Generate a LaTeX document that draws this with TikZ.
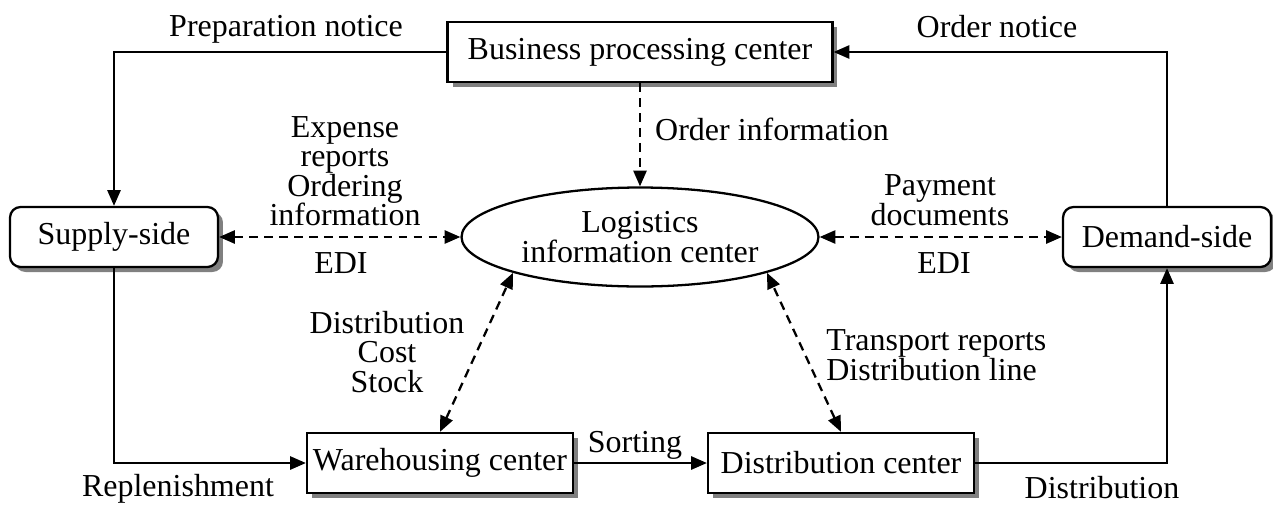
\documentclass[tikz,border=0pt]{standalone}
\usepackage{fontspec}
\setmainfont{Liberation Serif}
\usetikzlibrary{arrows.meta, shapes, shadows}

\tikzset{
  >={Triangle[length=9pt,width=7.5pt]},
  box/.style={draw, line width=1.3pt, fill=white, minimum height=1.2cm, inner sep=2pt,
    drop shadow={shadow xshift=0.1cm, shadow yshift=-0.1cm, fill=black!50, opacity=1}},
  side/.style={box, rounded corners=6pt, minimum width=4.16cm},
  link/.style={line width=1.3pt},
  info/.style={link, dash pattern=on 5pt off 3.5pt},
  lbl/.style={align=center, inner sep=0pt},
}

\begin{document}
\begin{tikzpicture}[x=0.02cm, y=-0.02cm, font=\fontsize{18.2pt}{16.8pt}\selectfont]
  \useasboundingbox (0,0) rectangle (1273,504);

  \node[box, minimum width=7.7cm] (biz) at (640,52) {Business processing center};
  \node[side] (sup) at (114,237) {Supply-side};
  \node[side] (dem) at (1167,237) {Demand-side};
  \node[ellipse, draw, line width=1.3pt, minimum width=7.14cm, minimum height=1.98cm,
        align=center, inner sep=0pt] (info) at (640,237) {Logistics\\information center};
  \node[box, minimum width=5.32cm] (ware) at (440,463) {Warehousing center};
  \node[box, minimum width=5.32cm] (dist) at (841,463) {Distribution center};

  \draw[link,->] (biz.west) -| (sup.north);
  \draw[link,->] (dem.north) |- (biz.east);
  \draw[link,->] (sup.south) |- (ware.west);
  \draw[link,->] (ware.east) -- (dist.west);
  \draw[link,->] (dist.east) -| (dem.south);

  \draw[info,<->] (sup.east) -- (info.west);
  \draw[info,<->] (info.east) -- (dem.west);
  \draw[info,->] (biz.south) -- (info.north);
  \draw[info,<->] (ware.north) -- (info.south west);
  \draw[info,<->] (dist.north) -- (info.south east);

  \node[lbl] (prepnote) at (286,29) {Preparation notice};
  \node[lbl] (ordnote) at (997,27) {Order notice};
  \node[lbl] (expense) at (345,171) {Expense\\reports\\Ordering\\information};
  \node[lbl] (edil) at (341,263) {EDI};
  \node[lbl] (ordinfo) at (772,129) {Order information};
  \node[lbl] (payment) at (940,200) {Payment\\documents};
  \node[lbl] (edir) at (944,263) {EDI};
  \node[lbl] (dcs) at (387,352) {Distribution\\Cost\\Stock};
  \node[lbl, align=left, anchor=west] (transp) at (826,355) {Transport reports\\Distribution line};
  \node[lbl] (sorting) at (635,445) {Sorting};
  \node[lbl] (repl) at (178,489) {Replenishment};
  \node[lbl] (distlbl) at (1102,488) {Distribution};
\end{tikzpicture}
\end{document}
